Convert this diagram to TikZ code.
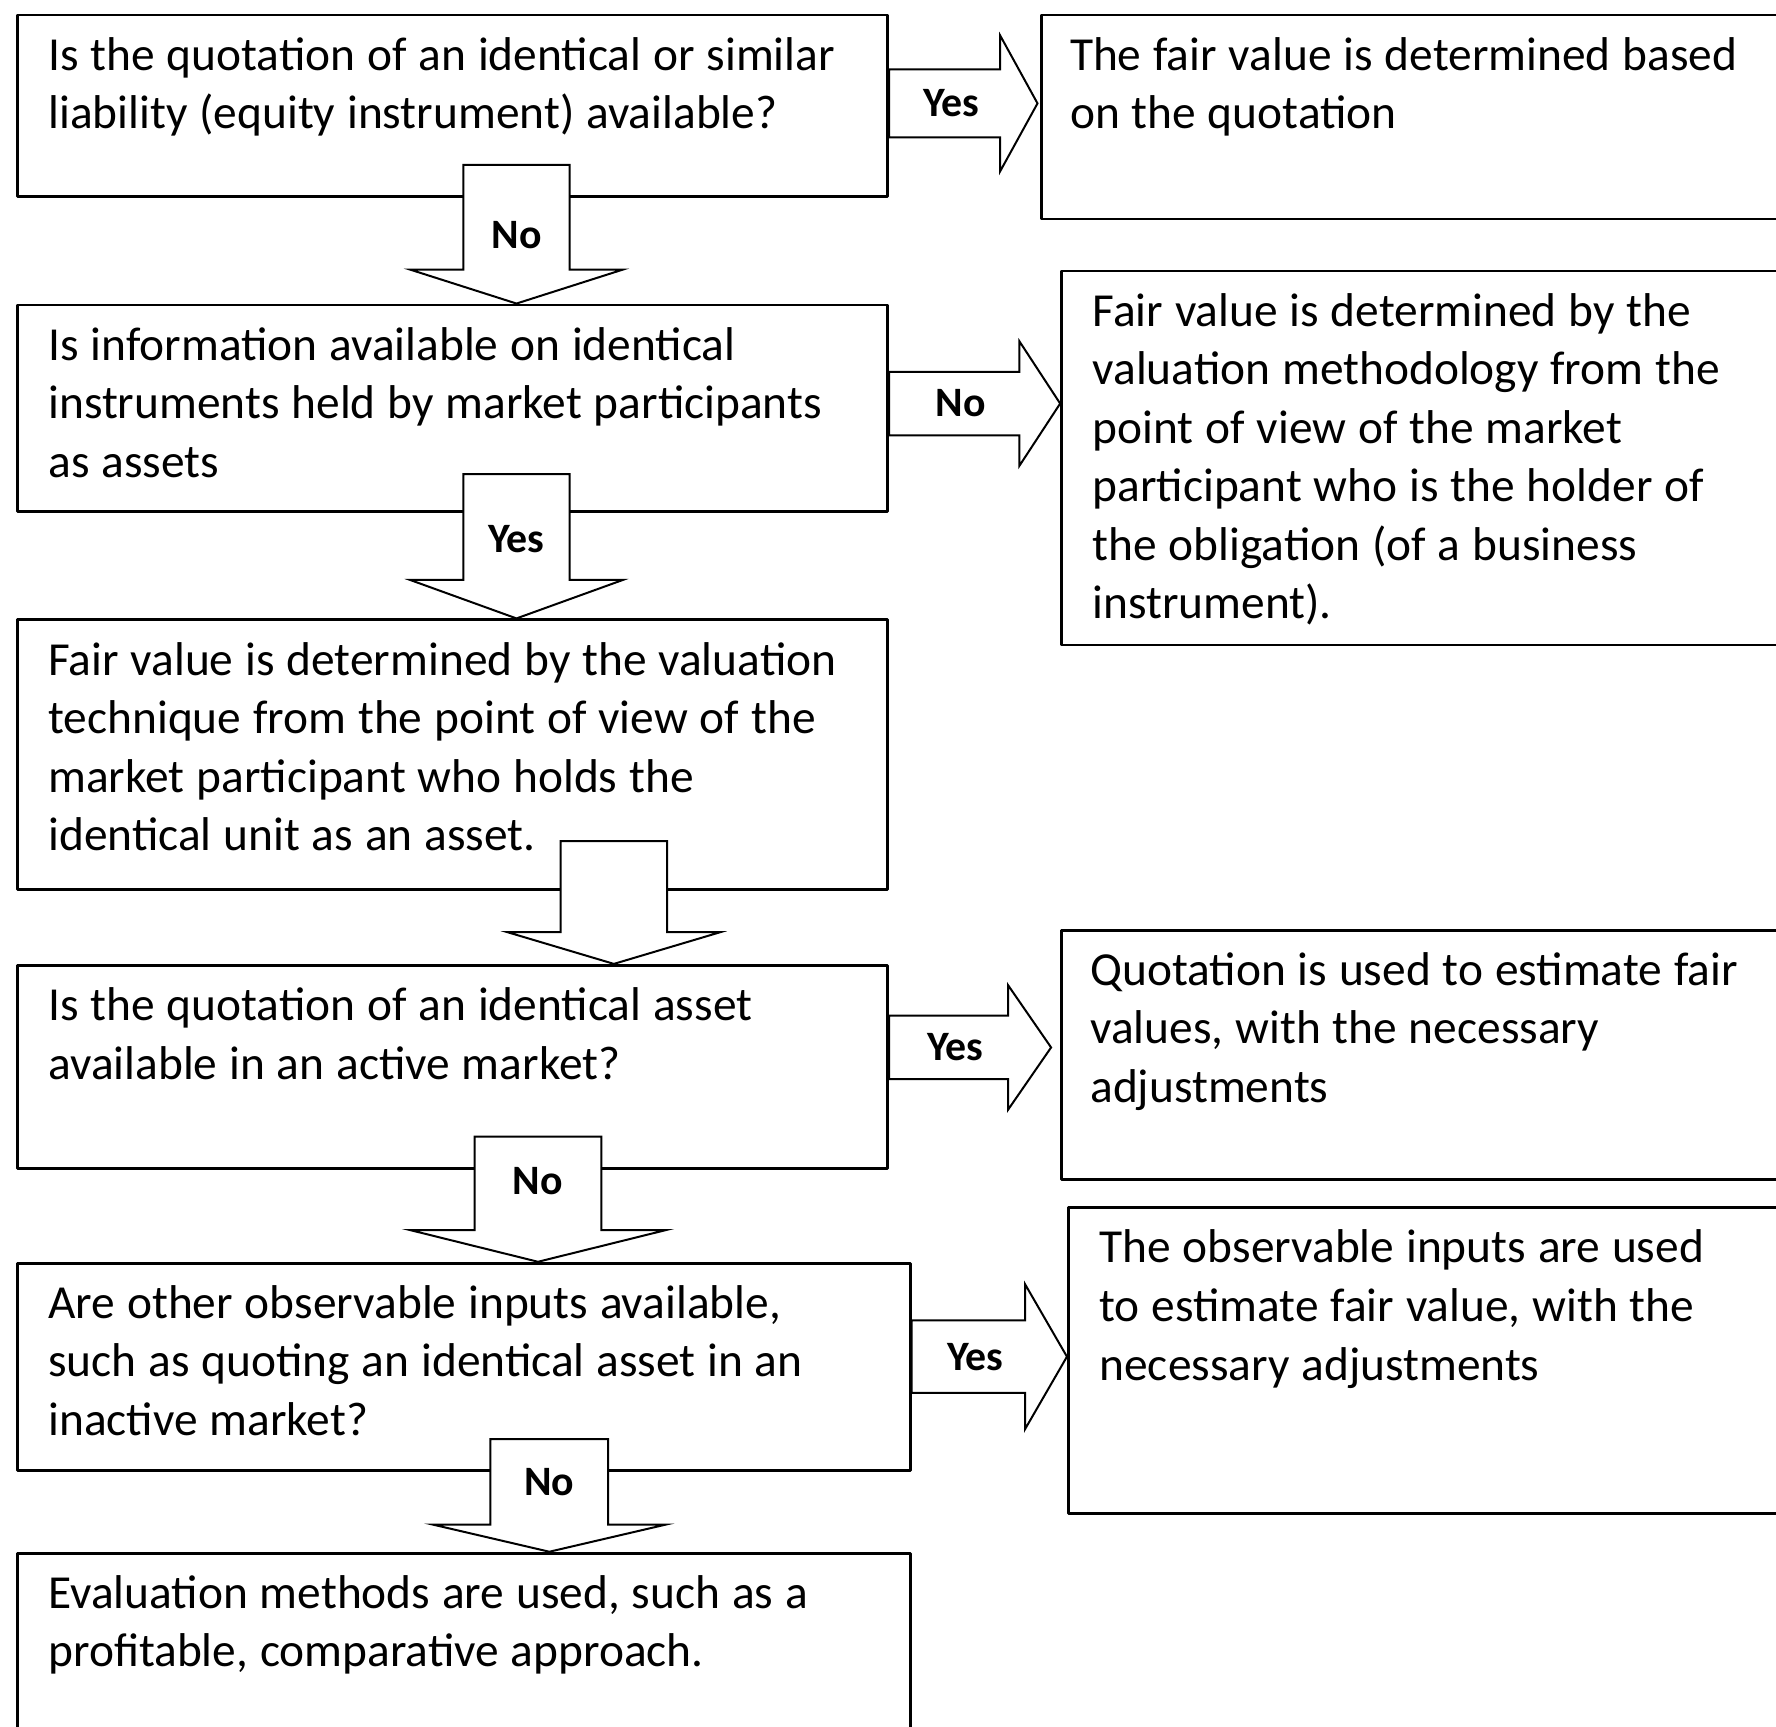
\documentclass[tikz,border=0pt]{standalone}
\usepackage{fontspec}
\setmainfont{Carlito}
\usetikzlibrary{calc}

% block arrow pointing down: from, to, tip x from west, tail above bottom, shaft half, head half, head length, label, label drop
\newcommand{\downblk}[9]{%
  \coordinate (tip#1#2) at ($(#2.north west)+(#3,0)$);
  \coordinate (tail#1#2) at ($(#1.south west)+(#3,#4)$);
  \draw[blk] (tip#1#2) -- ++(#6,#7) -- ++({#5-#6},0) |- (tail#1#2) -| ($(tip#1#2)+(-#5,#7)$) -- ++({#5-#6},0) -- cycle;
  \node[lbl] (lbl#1#2) at ($(tail#1#2)+(0,-#9)$) {#8};}
% block arrow pointing right: from, to, rise, gap, shaft half, head half, head length, label
\newcommand{\rightblk}[8]{%
  \coordinate (tail#1#2) at ($(#1.east)+(0,#3)$);
  \coordinate (tip#1#2) at ($(#2.west |- tail#1#2)+(-#4,0)$);
  \draw[blk] (tip#1#2) -- ++(-#7,#6) -- ++(0,{#5-#6}) -| (tail#1#2) |- ($(tip#1#2)+(-#7,-#5)$) -- ++(0,{#5-#6}) -- cycle;
  \node[lbl] (lbl#1#2) at ($(tail#1#2)!0.5!(tip#1#2)+({6-#7/2},0)$) {#8};}

\begin{document}
\begin{tikzpicture}[x=0.01cm,y=0.01cm,line cap=round,line join=round,
  box/.style={draw,line width=0.7pt,anchor=north west,inner sep=0pt},
  txt/.style={anchor=base west,text width=7.6cm,inner sep=0pt,
    font=\fontsize{11.9}{14.7}\selectfont,
    execute at begin node={\spaceskip=0.25em plus 0.05em\relax}},
  blk/.style={draw,line width=0.5pt,fill=white,line join=miter},
  lbl/.style={inner sep=0pt,font=\fontsize{10.5}{12}\selectfont\bfseries}]
  \useasboundingbox (0,0) rectangle (1568,-1524);
  \clip (0,0) rectangle (1568,-1524);
  % questions
  \node[box,minimum width=7.68cm,minimum height=1.60cm] (qa) at (14,-12) {};
  \node[box,minimum width=7.68cm,minimum height=1.82cm] (qb) at (14,-268) {};
  \node[box,minimum width=7.68cm,minimum height=2.38cm] (qc) at (14,-546) {};
  \node[box,minimum width=7.68cm,minimum height=1.79cm] (qd) at (14,-851) {};
  \node[box,minimum width=7.88cm,minimum height=1.83cm] (qe) at (14,-1114) {};
  \node[box,minimum width=7.88cm,minimum height=1.80cm] (qf) at (14,-1370) {};
  % results
  \node[box,minimum width=7cm,minimum height=1.80cm] (ra) at (918,-12) {};
  \node[box,minimum width=7cm,minimum height=3.30cm] (rb) at (936,-238) {};
  \node[box,minimum width=7cm,minimum height=2.20cm] (rd) at (936,-820) {};
  \node[box,minimum width=7cm,minimum height=2.70cm] (re) at (942,-1065) {};
  % texts
  \node[txt] (qat) at ($(qa.north west)+(28,-50)$) {Is the quotation of an identical or similar\\liability (equity instrument) available?};
  \node[txt] (qbt) at ($(qb.north west)+(28,-50)$) {Is information available on identical\\instruments held by market participants\\as assets};
  \node[txt] (qct) at ($(qc.north west)+(28,-50)$) {Fair value is determined by the valuation\\technique from the point of view of the\\market participant who holds the\\identical unit as an asset.};
  \node[txt] (qdt) at ($(qd.north west)+(28,-50)$) {Is the quotation of an identical asset\\available in an active market?};
  \node[txt] (qet) at ($(qe.north west)+(28,-50)$) {Are other observable inputs available,\\such as quoting an identical asset in an\\inactive market?};
  \node[txt] (qft) at ($(qf.north west)+(28,-50)$) {Evaluation methods are used, such as a\\profitable, comparative approach.};
  \node[txt] (rat) at ($(ra.north west)+(26,-50)$) {The fair value is determined based\\on the quotation};
  \node[txt] (rbt) at ($(rb.north west)+(28,-50)$) {Fair value is determined by the\\valuation methodology from the\\point of view of the market\\participant who is the holder of\\the obligation (of a business\\instrument).};
  \node[txt] (rdt) at ($(rd.north west)+(26,-50)$) {Quotation is used to estimate fair\\values, with the necessary\\adjustments};
  \node[txt] (ret) at ($(re.north west)+(28,-50)$) {The observable inputs are used\\to estimate fair value, with the\\necessary adjustments};
  % arrows
  \downblk{qa}{qb}{442}{29}{47}{94}{30}{No}{62}
  \downblk{qb}{qc}{442}{34}{47}{94}{34}{Yes}{57}
  \downblk{qc}{qd}{528}{44}{47}{94}{28}{}{0}
  \downblk{qd}{qe}{461}{29}{56}{113}{28}{No}{39}
  \downblk{qe}{qf}{471}{29}{52}{103}{24}{No}{38}
  \rightblk{qa}{ra}{2}{2}{30}{60}{33}{Yes}
  \rightblk{qb}{rb}{4}{0}{28}{55}{36}{No}
  \rightblk{qd}{rd}{17}{8}{28}{55}{38}{Yes}
  \rightblk{qe}{re}{9}{0}{32}{64}{37}{Yes}
\end{tikzpicture}
\end{document}
